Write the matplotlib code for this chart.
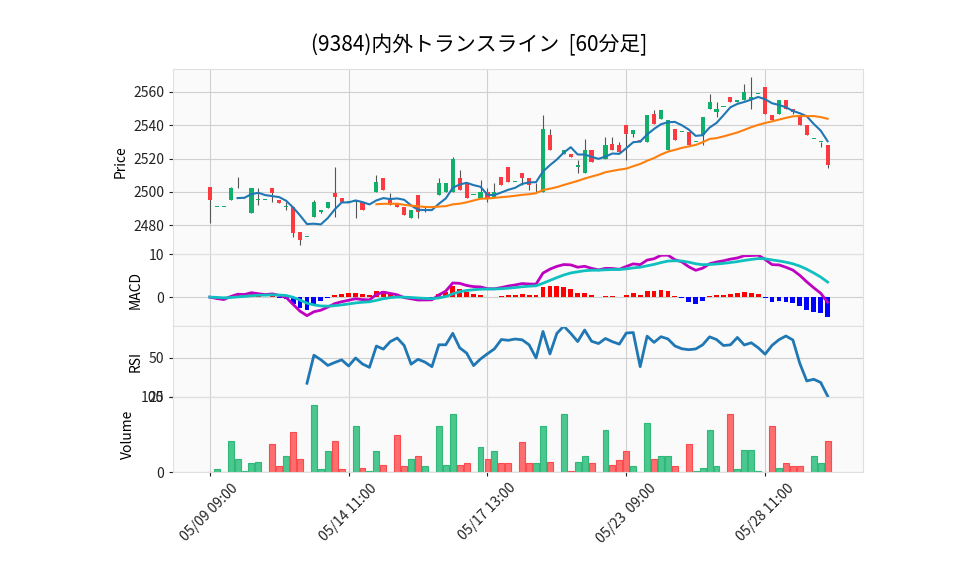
import numpy as np
import pandas as pd
import matplotlib
matplotlib.use("Agg")
import matplotlib.pyplot as plt

# 60分足 OHLCV (読み取り値)
opens = [2503, 2491, 2491, 2495, 2502, 2496, 2487, 2495, 2495, 2502,
         2495, 2491, 2491, 2476, 2473, 2485, 2488, 2490, 2499, 2496,
         2494, 2494, 2494, 2490, 2500, 2508, 2496, 2493, 2491, 2484,
         2498, 2490, 2491, 2498, 2500, 2500, 2508, 2505, 2498, 2496,
         2500, 2497, 2509, 2515, 2506, 2511, 2508, 2505, 2500, 2534,
         2525, 2523, 2523, 2515, 2511, 2525, 2519, 2520, 2529, 2528,
         2540, 2535, 2531, 2530, 2547, 2544, 2525, 2538, 2536, 2536,
         2530, 2534, 2550, 2548, 2551, 2557, 2554, 2555, 2556, 2559,
         2563, 2546, 2547, 2555, 2550, 2546, 2540, 2532, 2530, 2528]
closes = [2495, 2491, 2491, 2502, 2502, 2496, 2502, 2495, 2495, 2499,
          2493, 2491, 2475, 2471, 2473, 2494, 2489, 2494, 2497, 2494,
          2494, 2495, 2489, 2490, 2506, 2501, 2492, 2491, 2486, 2489,
          2488, 2491, 2491, 2505, 2505, 2520, 2501, 2496, 2498, 2500,
          2496, 2500, 2504, 2506, 2506, 2508, 2504, 2505, 2538, 2525,
          2525, 2525, 2521, 2516, 2525, 2518, 2519, 2528, 2525, 2524,
          2535, 2537, 2530, 2546, 2541, 2549, 2543, 2531, 2536, 2528,
          2530, 2545, 2554, 2550, 2551, 2554, 2555, 2560, 2557, 2559,
          2547, 2543, 2555, 2550, 2548, 2540, 2534, 2532, 2530, 2516]
highs = [2503, 2491, 2491, 2503, 2509, 2497, 2502, 2502, 2495, 2502,
         2495, 2494, 2491, 2476, 2473, 2495, 2489, 2494, 2515, 2496,
         2494, 2495, 2494, 2490, 2510, 2508, 2499, 2493, 2491, 2489,
         2498, 2491, 2491, 2508, 2505, 2521, 2513, 2505, 2498, 2507,
         2502, 2505, 2509, 2515, 2506, 2511, 2508, 2505, 2546, 2538,
         2525, 2525, 2523, 2519, 2532, 2525, 2519, 2533, 2533, 2530,
         2540, 2537, 2531, 2546, 2549, 2549, 2543, 2538, 2536, 2536,
         2530, 2545, 2559, 2554, 2551, 2557, 2555, 2565, 2569, 2559,
         2563, 2546, 2555, 2555, 2550, 2546, 2540, 2532, 2530, 2528]
lows = [2481, 2491, 2491, 2495, 2502, 2496, 2487, 2492, 2495, 2494,
        2493, 2489, 2473, 2468, 2473, 2485, 2487, 2490, 2485, 2494,
        2494, 2484, 2489, 2490, 2500, 2501, 2492, 2491, 2486, 2484,
        2484, 2488, 2491, 2498, 2500, 2500, 2501, 2496, 2498, 2496,
        2494, 2496, 2504, 2506, 2506, 2504, 2501, 2500, 2500, 2525,
        2525, 2523, 2521, 2511, 2511, 2518, 2519, 2520, 2525, 2524,
        2519, 2533, 2530, 2530, 2541, 2544, 2525, 2531, 2536, 2528,
        2530, 2528, 2550, 2545, 2551, 2554, 2554, 2555, 2550, 2559,
        2547, 2543, 2547, 2550, 2547, 2540, 2534, 2532, 2527, 2514]
volumes = [0, 4, 0, 41, 17, 2, 12, 14, 0, 37,
           8, 22, 53, 18, 0, 89, 4, 28, 41, 4,
           0, 62, 5, 1, 28, 10, 0, 49, 8, 18,
           22, 8, 0, 61, 10, 78, 10, 12, 0, 34,
           18, 28, 12, 12, 0, 40, 12, 12, 61, 14,
           0, 78, 2, 14, 21, 12, 0, 56, 9, 16,
           28, 8, 0, 66, 17, 21, 22, 8, 0, 38,
           1, 6, 56, 8, 0, 78, 4, 29, 29, 1,
           0, 61, 6, 12, 8, 8, 0, 22, 12, 42]
tick_pos = [0, 20, 40, 60, 80]
tick_labels = ["05/09 09:00", "05/14 11:00", "05/17 13:00", "05/23  09:00", "05/28 11:00"]

df = pd.DataFrame({"open": opens, "high": highs, "low": lows, "close": closes, "volume": volumes})
x = np.arange(len(df))
up = df["close"] >= df["open"]

ma5 = df["close"].rolling(5).mean()
ma25 = df["close"].rolling(25).mean()
ema12 = df["close"].ewm(span=12, adjust=False).mean()
ema26 = df["close"].ewm(span=26, adjust=False).mean()
macd = ema12 - ema26
signal = macd.ewm(span=9, adjust=False).mean()
hist = macd - signal
delta = df["close"].diff()
gain = delta.clip(lower=0).rolling(14).mean()
loss = (-delta.clip(upper=0)).rolling(14).mean()
rsi = 100 - 100 / (1 + gain / loss)

plt.rcParams["font.family"] = ["Noto Sans CJK JP", "DejaVu Sans"]
fig = plt.figure(figsize=(9.58, 5.75), dpi=100)
W, H = 958, 575
L, R = 173, 863
panels = [(69, 254), (254, 326), (326, 397), (397, 472)]
axes = []
for top, bot in panels:
    ax = fig.add_axes([L / W, 1 - bot / H, (R - L) / W, (bot - top) / H],
                      sharex=axes[0] if axes else None)
    ax.set_facecolor("#fafafa")
    for s in ax.spines.values():
        s.set_color("#e0e0e0")
    ax.grid(True, color="#d0d0d0", lw=0.8)
    ax.set_axisbelow(True)
    ax.tick_params(length=3, labelsize=10, colors="#222222")
    axes.append(ax)
ax_p, ax_m, ax_r, ax_v = axes

green, red = "#10b06a", "#fd3a3f"
cols = np.where(up, green, red)
ax_p.vlines(x, df["low"], df["high"], color="#555555", lw=0.8, zorder=2)
body = (df["close"] - df["open"]).abs().clip(lower=0.4)
ax_p.bar(x, body, bottom=np.minimum(df["open"], df["close"]), width=0.6,
         color=cols, zorder=3)
ax_p.plot(x, ma5, color="#1f77b4", lw=1.5, zorder=4)
ax_p.plot(x, ma25, color="#ff7f0e", lw=1.5, zorder=4)
ax_p.set_ylim(2462.6, 2573.8)
ax_p.set_yticks([2480, 2500, 2520, 2540, 2560])
ax_p.set_ylabel("Price", fontsize=10)

ax_m.bar(x, hist, width=0.7, color=np.where(hist >= 0, "#ff0000", "#0000ff"))
ax_m.plot(x, macd, color="#c000c0", lw=2)
ax_m.plot(x, signal, color="#10c0c0", lw=2)
ax_m.set_ylim(-6.7, 10)
ax_m.set_yticks([0, 10])
ax_m.set_ylabel("MACD", fontsize=10)

ax_r.plot(x, rsi, color="#1f77b4", lw=2)
ax_r.set_ylim(25, 70.5)
ax_r.set_yticks([25, 50])
ax_r.set_ylabel("RSI", fontsize=10)

vcols = np.where(up, "#4bc790", "#fe6e6e")
vedge = np.where(up, "#2fb878", "#fd4a4f")
ax_v.bar(x, df["volume"], width=0.85, color=vcols, edgecolor=vedge, lw=0.8)
ax_v.set_ylim(0, 100)
ax_v.set_yticks([0, 100])
ax_v.set_ylabel("Volume", fontsize=10)

ax_v.set_xlim(-5.3, 94.1)
ax_v.set_xticks(tick_pos)
ax_v.set_xticklabels(tick_labels, rotation=45, ha="center", fontsize=10)
for ax in axes[:-1]:
    ax.tick_params(labelbottom=False, bottom=False)

fig.text(0.5, 1 - 45 / H, "(9384)内外トランスライン  [60分足]", ha="center", va="center",
         fontsize=15)
fig.savefig("out.png", dpi=100)
